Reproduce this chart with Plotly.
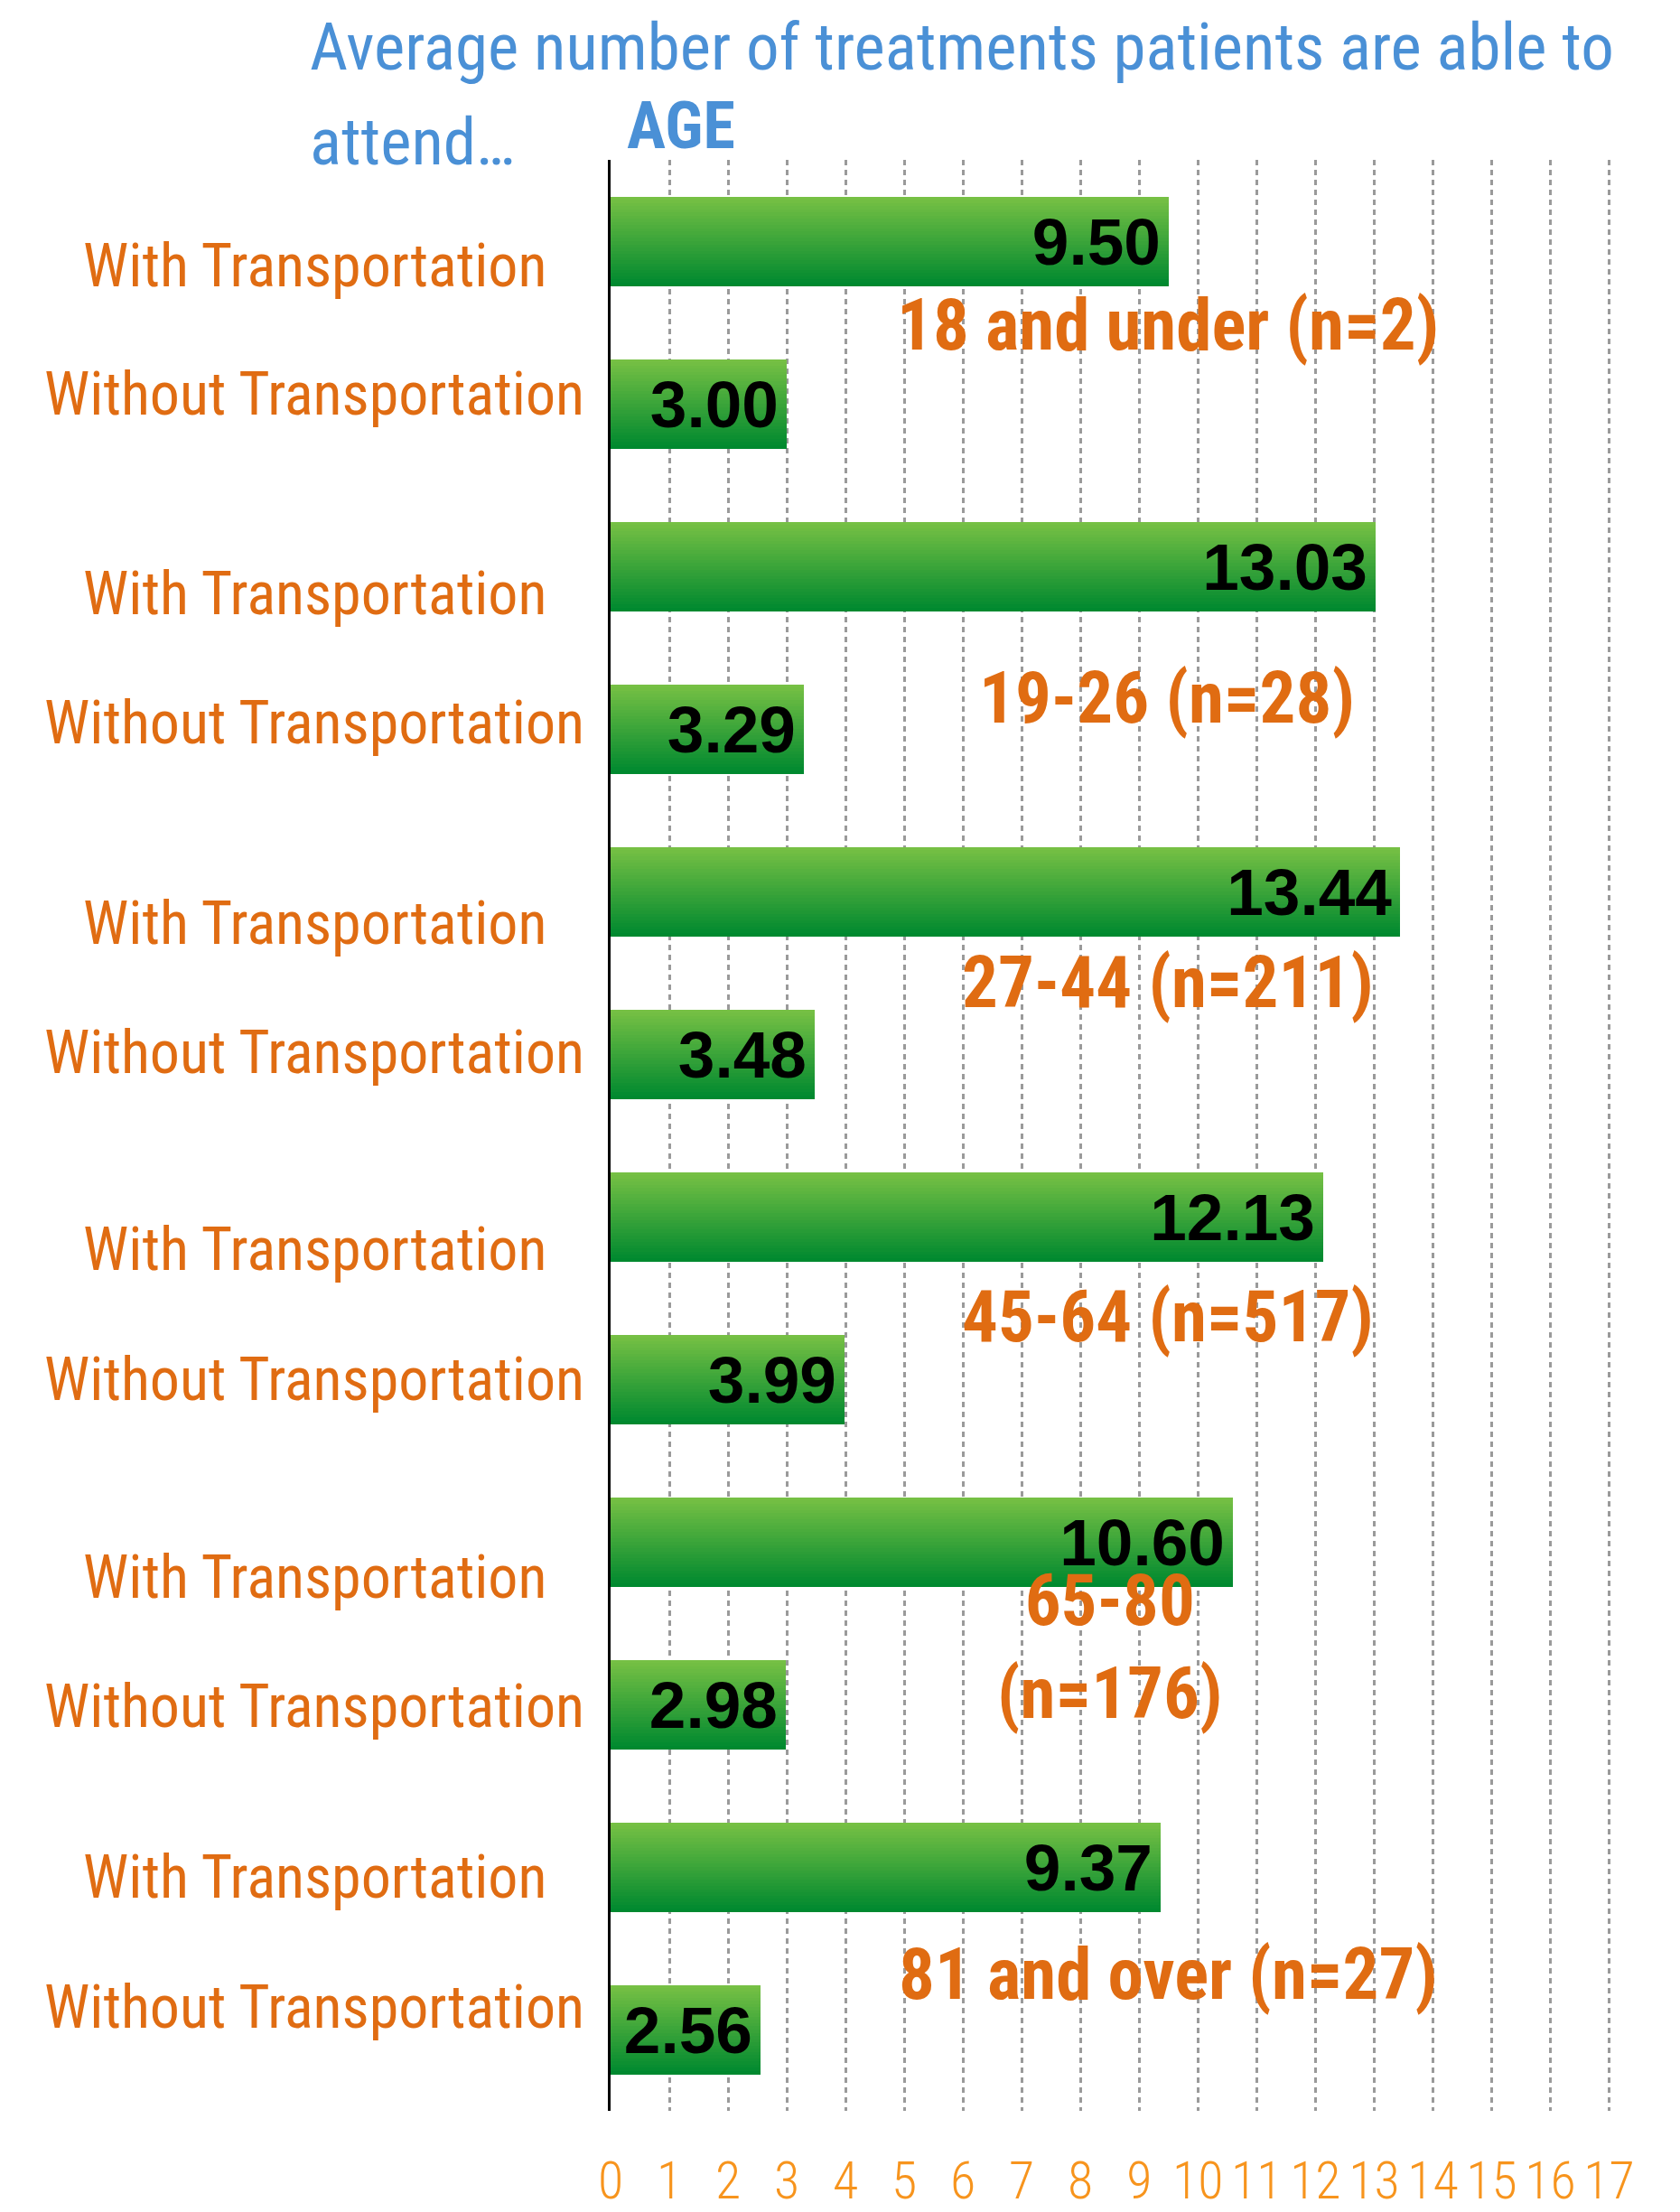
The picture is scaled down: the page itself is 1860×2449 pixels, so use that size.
import plotly.graph_objects as go

# ---------------- data ----------------
age_groups = ["18 and under (n=2)", "19-26 (n=28)", "27-44 (n=211)",
              "45-64 (n=517)", "65-80<br>(n=176)", "81 and over (n=27)"]
bar_labels = ["With Transportation", "Without Transportation"] * 6
with_transport = [9.50, 13.03, 13.44, 12.13, 10.60, 9.37]
without_transport = [3.00, 3.29, 3.48, 3.99, 2.98, 2.56]
x_ticks = list(range(0, 18))
title_line1 = "Average number of treatments patients are able to"
title_line2 = "attend…"
title_tag = "AGE"

values = []
for a, b in zip(with_transport, without_transport):
    values += [a, b]
positions = list(range(len(values)))

# ---------------- layout geometry (pixels) ----------------
PAGE_OFF = 8                      # default body margin of the html page
W, H = 1860 - 2 * PAGE_OFF, 2449 - PAGE_OFF
ML, MR, MT, MB = 676 - PAGE_OFF, 64, 177 - PAGE_OFF, 112
PW, PH = W - ML - MR, H - MT - MB
def px_x(px):
    return (px - PAGE_OFF - ML) / PW
def px_y(py):
    return (H - MB - (py - PAGE_OFF)) / PH

SANS = "Liberation Sans, Arial, sans-serif"
COND = "Roboto Condensed, Liberation Sans Narrow, Liberation Sans, sans-serif"
ORANGE = "#E06C12"
TICK_ORANGE = "#F7941D"
BLUE = "#4A90D6"
TOP_GREEN = (118, 192, 68)
BOT_GREEN = (0, 137, 47)

BAR_W = 0.55
N_SLICES = 28

fig = go.Figure()
sw = BAR_W / N_SLICES
for k in range(N_SLICES):
    t = k / (N_SLICES - 1)
    c = tuple(round(TOP_GREEN[i] + (BOT_GREEN[i] - TOP_GREEN[i]) * t) for i in range(3))
    fig.add_trace(go.Bar(
        x=values, y=positions, orientation="h",
        width=sw * (1.25 if k < N_SLICES - 1 else 1.0),
        offset=-BAR_W / 2 + k * sw,
        marker=dict(color="rgb(%d,%d,%d)" % c, line=dict(width=0)),
        hoverinfo="skip", showlegend=False,
    ))

fig.add_trace(go.Bar(
    x=values, y=positions, orientation="h", width=BAR_W,
    marker=dict(color="rgba(0,0,0,0)", line=dict(width=0)),
    text=["%.2f\u200a" % v for v in values], textposition="inside",
    insidetextanchor="end", constraintext="none",
    textfont=dict(family=SANS, size=73, color="black", weight="bold"),
    hoverinfo="skip", showlegend=False, cliponaxis=False,
))

annotations = []
# category labels (left)
with_off = [27, 30, 35, 36, 39, 11]
without_off = [-11, -7, -2, 0, 2, -25]
for i, lab in enumerate(bar_labels):
    g = i // 2
    off = with_off[g] if i % 2 == 0 else without_off[g]
    annotations.append(dict(
        text=lab, xref="paper", yref="y", x=px_x(348), y=positions[i] + off / 180.0,
        xanchor="center", yanchor="middle", showarrow=False,
        font=dict(family=COND, size=66, color=ORANGE)))

# group labels
group_y_px = [360, 773, 1088, 1458, 1823, 2186]
group_x_px = [1293, 1292, 1293, 1293, 1229, 1293]
for lab, gx, gy in zip(age_groups, group_x_px, group_y_px):
    annotations.append(dict(
        text=lab, xref="paper", yref="paper", x=px_x(gx), y=px_y(gy),
        xanchor="center", yanchor="middle", showarrow=False,
        font=dict(family=COND, size=79, color=ORANGE, weight="bold")))

# title
annotations.append(dict(text=title_line1, xref="paper", yref="paper",
                        x=px_x(341), y=px_y(52), xanchor="left", yanchor="middle",
                        showarrow=False, font=dict(family=COND, size=73, color=BLUE)))
annotations.append(dict(text=title_line2, xref="paper", yref="paper",
                        x=px_x(341), y=px_y(157), xanchor="left", yanchor="middle",
                        showarrow=False, font=dict(family=COND, size=73, color=BLUE)))
annotations.append(dict(text=title_tag, xref="paper", yref="paper",
                        x=px_x(692), y=px_y(140), xanchor="left", yanchor="middle",
                        showarrow=False, font=dict(family=COND, size=72, color=BLUE,
                                                   weight="bold")))

fig.update_layout(
    width=W, height=H, barmode="overlay", bargap=0,
    margin=dict(l=ML, r=MR, t=MT, b=MB, pad=0, autoexpand=False),
    paper_bgcolor="white", plot_bgcolor="white",
    annotations=annotations,
    xaxis=dict(range=[0, 17.1], tickvals=x_ticks, ticktext=[str(v) for v in x_ticks],
               tickfont=dict(family=COND, size=58, color=TICK_ORANGE, weight=300),
               tickangle=0, automargin=False,
               showgrid=True, gridcolor="#9a9a9a", griddash="6px,5px", gridwidth=2.5,
               zeroline=False, showline=False, ticks="", ticklabelstandoff=38,
               fixedrange=True),
    yaxis=dict(range=[11.5, -0.5], showticklabels=False, showgrid=False,
               automargin=False,
               zeroline=False, showline=True, linecolor="black", linewidth=2.5,
               ticks="", fixedrange=True),
)

fig.write_html("out.html")
